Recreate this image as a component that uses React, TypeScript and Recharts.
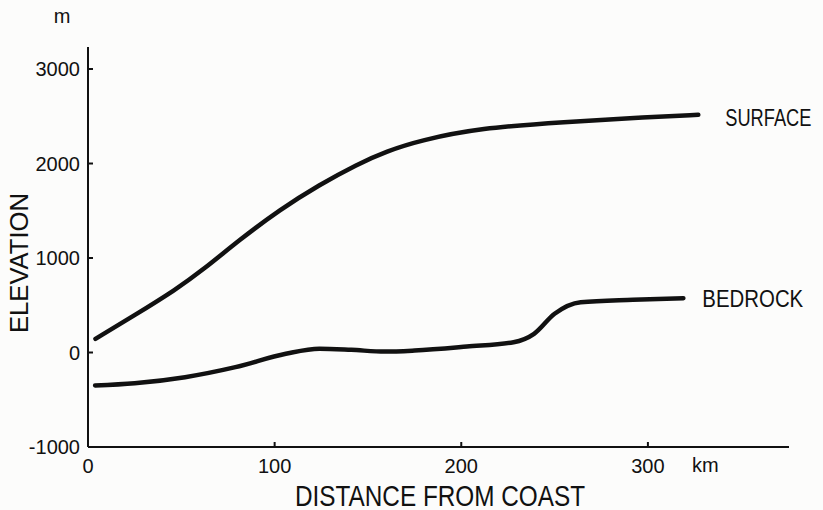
import React from 'react'
import { LineChart, Line, XAxis, YAxis, LabelList } from 'recharts'

// distance from coast (km) and elevation (m)
const surfaceKm = [4, 25, 47, 62, 81, 103, 124, 144, 160, 178, 210, 255, 300, 327]
const surfaceM = [145, 395, 665, 880, 1190, 1515, 1775, 1990, 2130, 2245, 2375, 2440, 2490, 2515]

const bedrockKm = [3.8, 25, 52, 79, 106, 124, 141, 159, 175, 203, 228, 239, 250, 264, 292, 319]
const bedrockM = [-349, -325, -261, -155, -14, 39, 28, 10, 21, 63, 109, 198, 410, 532, 558, 575]

const xTicks = [0, 100, 200, 300]
const yTicks = [-1000, 0, 1000, 2000, 3000]

const surface = surfaceKm.map((km, i) => ({ km, elev: surfaceM[i] }))
const bedrock = bedrockKm.map((km, i) => ({ km, elev: bedrockM[i] }))

const FONT = '"Liberation Sans", Arial, sans-serif'
const INK = '#111'

function YTick({ x, y, payload }: any) {
  return (
    <g>
      <line x1={x + 8} y1={y} x2={x + 13} y2={y} stroke={INK} strokeWidth={2} />
      <text x={x} y={y} textAnchor="end" dominantBaseline="central" fontSize={20} fill={INK} fontFamily={FONT}>
        {payload.value}
      </text>
      {payload.value === 3000 && (
        <text x={x - 18} y={y - 53} textAnchor="middle" dominantBaseline="central" fontSize={20} fill={INK} fontFamily={FONT}>
          m
        </text>
      )}
    </g>
  )
}

function XTick({ x, y, payload }: any) {
  return (
    <g>
      <line x1={x} y1={y - 4} x2={x} y2={y - 9} stroke={INK} strokeWidth={2} />
      <text x={x} y={y + 15} textAnchor="middle" dominantBaseline="central" fontSize={20} fill={INK} fontFamily={FONT}>
        {payload.value}
      </text>
      {payload.value === 300 && (
        <text x={x + 44} y={y + 14} textAnchor="start" dominantBaseline="central" fontSize={20} fill={INK} fontFamily={FONT}>
          km
        </text>
      )}
    </g>
  )
}

// series name drawn right of the last point, squeezed horizontally like the original lettering
const endLabel = (name: string, count: number, dx: number, dy: number, squeeze: number) => (props: any) => {
  if (props.index !== count - 1) return null
  return (
    <text
      transform={`translate(${props.x + dx} ${props.y + dy}) scale(${squeeze} 1)`}
      dominantBaseline="central"
      fontSize={24}
      fill={INK}
      fontFamily={FONT}
    >
      {name}
    </text>
  )
}

export default function App() {
  return (
    <div style={{ position: 'absolute', left: 0, top: 0, background: '#fcfcfb' }}>
      <LineChart width={823} height={510} margin={{ top: 47, right: 34, bottom: 0, left: 0 }}>
        <XAxis
          type="number"
          dataKey="km"
          domain={[0, 375.6]}
          ticks={xTicks}
          allowDataOverflow
          height={63}
          tickSize={0}
          tickMargin={4}
          tickLine={false}
          axisLine={{ stroke: INK, strokeWidth: 2 }}
          tick={<XTick />}
          label={({ viewBox }: any) => (
            <text
              x={viewBox.x + 352}
              y={viewBox.y + 48}
              textAnchor="middle"
              dominantBaseline="central"
              fontSize={30}
              fill={INK}
              fontFamily={FONT}
              textLength={290}
              lengthAdjust="spacingAndGlyphs"
            >
              DISTANCE FROM COAST
            </text>
          )}
        />
        <YAxis
          type="number"
          dataKey="elev"
          domain={[-1000, 3233]}
          ticks={yTicks}
          allowDataOverflow
          width={88}
          tickSize={0}
          tickMargin={8}
          tickLine={false}
          axisLine={{ stroke: INK, strokeWidth: 2 }}
          tick={<YTick />}
          label={({ viewBox }: any) => (
            <text
              x={viewBox.x + 19}
              y={viewBox.y + 216}
              transform={`rotate(-90 ${viewBox.x + 19} ${viewBox.y + 216})`}
              textAnchor="middle"
              dominantBaseline="central"
              fontSize={25}
              fill={INK}
              fontFamily={FONT}
              textLength={140}
              lengthAdjust="spacingAndGlyphs"
            >
              ELEVATION
            </text>
          )}
        />
        <Line
          data={surface}
          dataKey="elev"
          type="basis"
          stroke={INK}
          strokeWidth={4.5}
          strokeLinecap="round"
          dot={false}
          isAnimationActive={false}
        >
          <LabelList dataKey="elev" content={endLabel('SURFACE', surface.length, 27, 3, 0.76)} />
        </Line>
        <Line
          data={bedrock}
          dataKey="elev"
          type="monotone"
          stroke={INK}
          strokeWidth={4.5}
          strokeLinecap="round"
          dot={false}
          isAnimationActive={false}
        >
          <LabelList dataKey="elev" content={endLabel('BEDROCK', bedrock.length, 19, 1, 0.85)} />
        </Line>
      </LineChart>
    </div>
  )
}
